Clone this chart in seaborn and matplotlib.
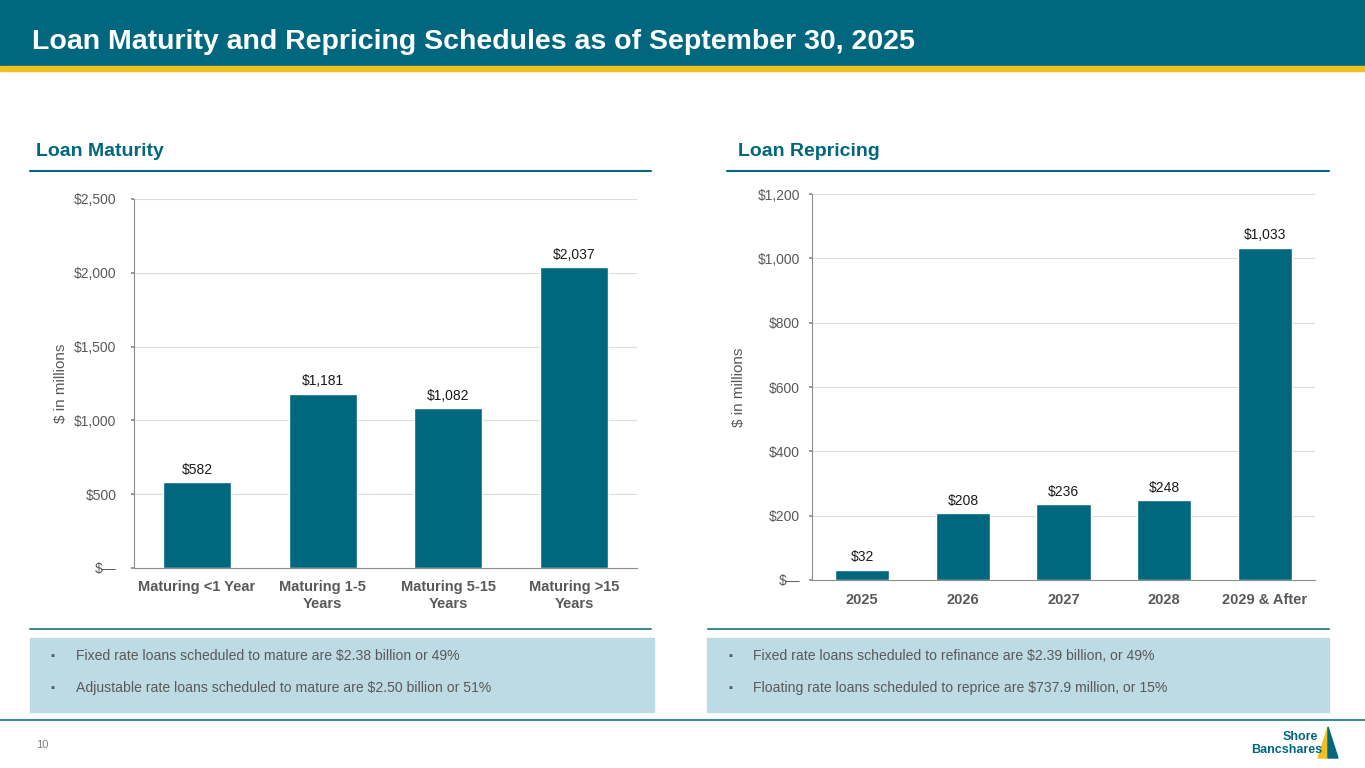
import matplotlib
matplotlib.use("Agg")
import matplotlib.pyplot as plt
import seaborn as sns
import pandas as pd
from matplotlib.patches import Rectangle, Polygon
from matplotlib.lines import Line2D
from matplotlib.ticker import FuncFormatter

# --- DATA ---
maturity_cats = ["Maturing <1 Year", "Maturing 1-5\nYears", "Maturing 5-15\nYears", "Maturing >15\nYears"]
maturity_vals = [582, 1181, 1082, 2037]

repricing_cats = ["2025", "2026", "2027", "2028", "2029 & After"]
repricing_vals = [32, 208, 236, 248, 1033]

maturity_notes = ["Fixed rate loans scheduled to mature are $2.38 billion or 49%",
                  "Adjustable rate loans scheduled to mature are $2.50 billion or 51%"]
repricing_notes = ["Fixed rate loans scheduled to refinance are $2.39 billion, or 49%",
                   "Floating rate loans scheduled to reprice are $737.9 million, or 15%"]

# --- STYLE ---
TEAL = "#00677f"
GOLD = "#f0c020"
BOX = "#bddbe4"
GRAY = "#595959"
W, H = 1365, 768

sns.set_theme(style="white")
plt.rcParams["font.family"] = ["Liberation Sans", "DejaVu Sans"]

fig = plt.figure(figsize=(W / 100, H / 100), dpi=100)
fig.patch.set_facecolor("white")


def fx(x):
    return x / W


def fy(y):
    return 1 - y / H


def rect(x0, y0, x1, y1, color):
    fig.patches.append(Rectangle((fx(x0), fy(y1)), fx(x1 - x0), (y1 - y0) / H,
                                 transform=fig.transFigure, color=color, zorder=0))


def hline(x0, x1, y, color=TEAL, lw=1.5):
    fig.lines.append(Line2D([fx(x0), fx(x1)], [fy(y), fy(y)], transform=fig.transFigure,
                            color=color, lw=lw))


# header
rect(0, 0, W, 66, TEAL)
rect(0, 66, W, 71, GOLD)
fig.text(fx(32), fy(42), "Loan Maturity and Repricing Schedules as of September 30, 2025",
         color="white", fontsize=20.5, fontweight="bold", va="center", ha="left")

# section titles and rules
fig.text(fx(36), fy(152), "Loan Maturity", color=TEAL, fontsize=14, fontweight="bold", va="center")
fig.text(fx(738), fy(152), "Loan Repricing", color=TEAL, fontsize=14, fontweight="bold", va="center")
hline(30, 651, 171)
hline(727, 1329, 171)
hline(30, 651, 629, color="#3d8c95")
hline(708, 1329, 629, color="#3d8c95")

# note boxes
rect(30, 638, 654, 712, BOX)
rect(707, 638, 1329, 712, BOX)
for i, t in enumerate(maturity_notes):
    y = 656 + 32 * i
    fig.text(fx(50), fy(y), "▪", color=GRAY, fontsize=8, va="center")
    fig.text(fx(76), fy(y), t, color=GRAY, fontsize=10.1, va="center")
for i, t in enumerate(repricing_notes):
    y = 656 + 32 * i
    fig.text(fx(728), fy(y), "▪", color=GRAY, fontsize=8, va="center")
    fig.text(fx(753), fy(y), t, color=GRAY, fontsize=10.1, va="center")

# footer
hline(0, W, 720, color="#3d8c95", lw=1.5)
fig.text(fx(36), fy(745), "10", color="#7f7f7f", fontsize=8, va="center")
fig.text(fx(1318), fy(737), "Shore", color=TEAL, fontsize=9, fontweight="bold", ha="right", va="center")
fig.text(fx(1322), fy(750), "Bancshares", color=TEAL, fontsize=9, fontweight="bold", ha="right", va="center")
fig.patches.append(Polygon([(fx(1328), fy(727)), (fx(1318), fy(758)), (fx(1328), fy(758))],
                           closed=True, transform=fig.transFigure, color=GOLD))
fig.patches.append(Polygon([(fx(1328), fy(727)), (fx(1338), fy(758)), (fx(1328), fy(758))],
                           closed=True, transform=fig.transFigure, color=TEAL))


def money(v, pos=None):
    return "$—" if v == 0 else f"${v:,.0f}"


def draw_bars(ax, cats, vals, ymax, step, ypad):
    df = pd.DataFrame({"cat": cats, "val": vals})
    sns.barplot(data=df, x="cat", y="val", color=TEAL, width=0.54, ax=ax, saturation=1)
    ax.set_ylim(0, ymax)
    ax.set_xlim(-0.5, len(cats) - 0.5)
    ax.set_yticks(range(0, ymax + 1, step))
    ax.yaxis.set_major_formatter(FuncFormatter(money))
    ax.grid(axis="y", color="#dcdcdc", lw=0.8)
    ax.set_axisbelow(True)
    for s in ["top", "right"]:
        ax.spines[s].set_visible(False)
    for s in ["left", "bottom"]:
        ax.spines[s].set_color("#8c8c8c")
        ax.spines[s].set_linewidth(0.8)
    ax.tick_params(axis="y", left=True, length=2.5, color="#8c8c8c", labelsize=10,
                   labelcolor=GRAY, pad=ypad)
    ax.tick_params(axis="x", bottom=False, labelsize=10.5, labelcolor=GRAY, pad=3)
    for lab in ax.get_xticklabels():
        lab.set_fontweight("bold")
    ax.set_xlabel("")
    ax.set_ylabel("$ in millions", color=GRAY, fontsize=11)
    ax.bar_label(ax.containers[0], labels=[money(v) for v in vals], padding=4,
                 fontsize=10, color="#1a1a1a")


ax1 = fig.add_axes([fx(134), fy(568), fx(637 - 134), (568 - 199) / H])
draw_bars(ax1, maturity_cats, maturity_vals, 2500, 500, 10)
ax1.yaxis.set_label_coords((68 - 134) / 503, 0.5)

ax2 = fig.add_axes([fx(812), fy(580), fx(1315 - 812), (580 - 194) / H])
draw_bars(ax2, repricing_cats, repricing_vals, 1200, 200, 6)
ax2.yaxis.set_label_coords((746 - 812) / 503, 0.5)

fig.savefig("out.png", dpi=100)
